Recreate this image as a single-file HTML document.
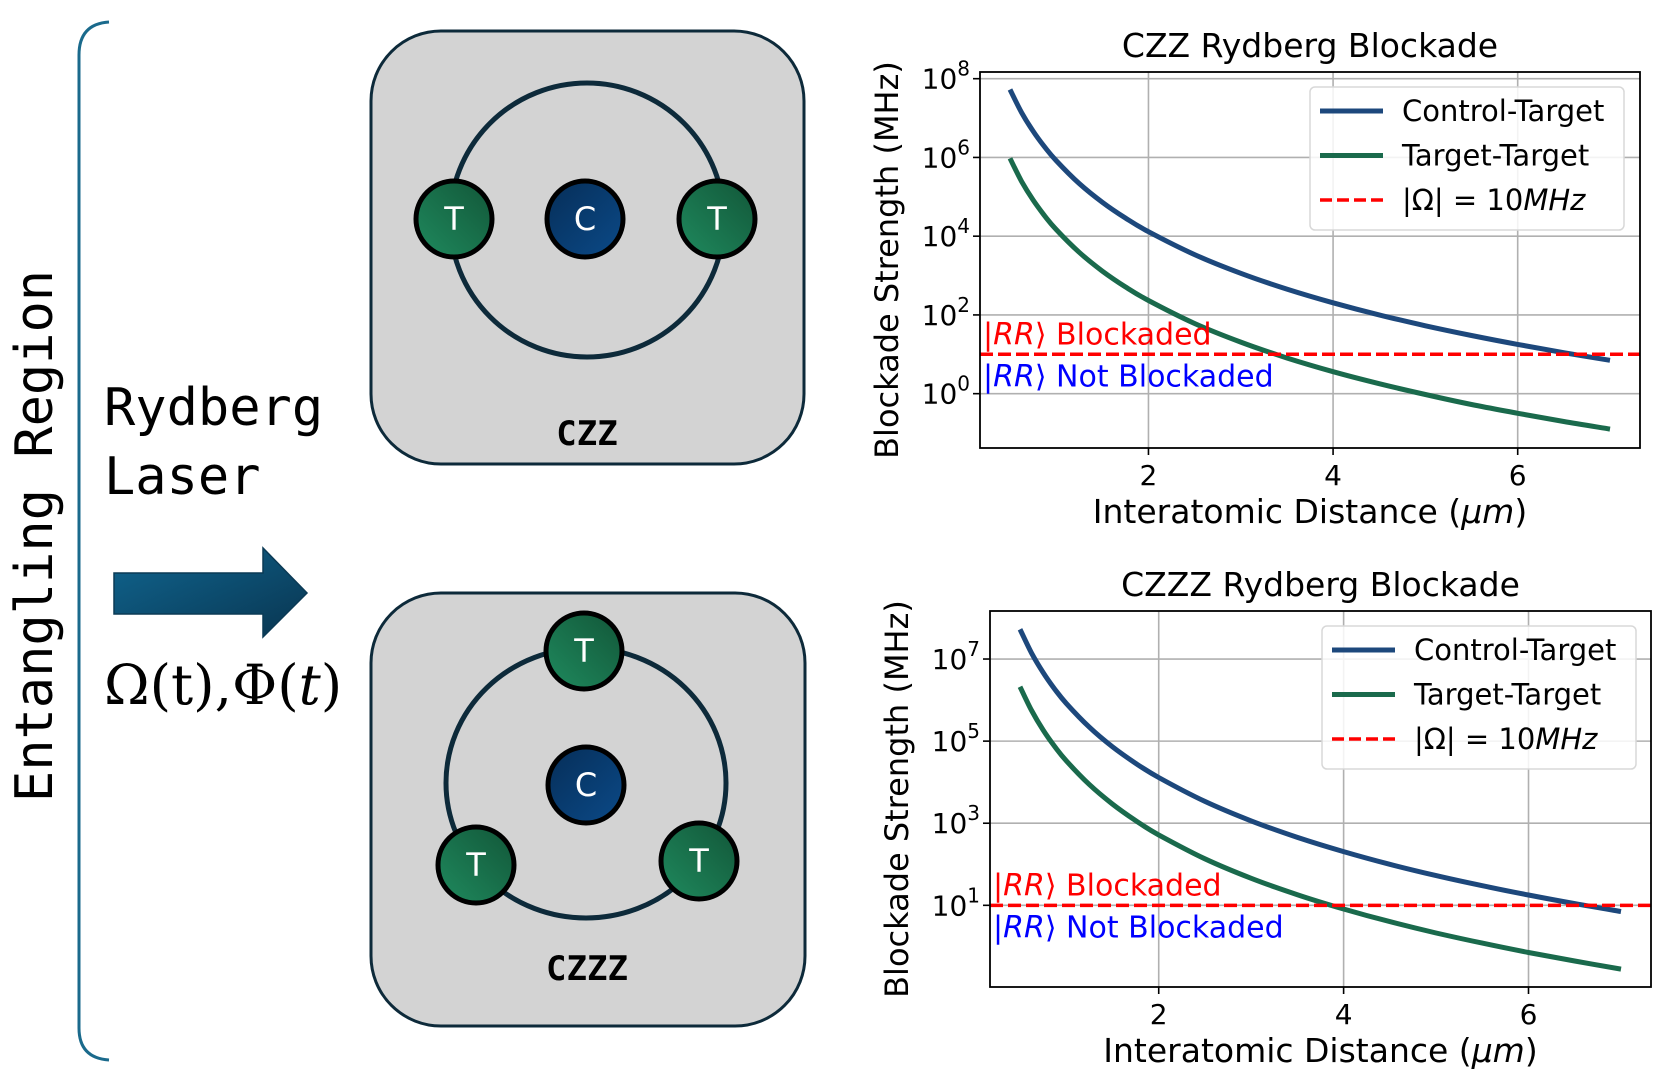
<!DOCTYPE html>
<html><head><meta charset="utf-8"><style>
html,body{margin:0;padding:0;background:#fff;}
svg{display:block;}
text{font-family:"DejaVu Sans","Liberation Sans",sans-serif;}
</style></head><body>
<svg id="fig" width="1660" height="1083" viewBox="0 0 1660 1083" xmlns="http://www.w3.org/2000/svg">
<defs>
<linearGradient id="gT" x1="0" y1="1" x2="1" y2="0"><stop offset="0" stop-color="#1f8a5e"/><stop offset="1" stop-color="#125638"/></linearGradient>
<linearGradient id="gC" x1="0" y1="0" x2="1" y2="1"><stop offset="0" stop-color="#062e58"/><stop offset="1" stop-color="#0b4a88"/></linearGradient>
<linearGradient id="gA" x1="0" y1="0" x2="1" y2="1"><stop offset="0" stop-color="#10658f"/><stop offset="1" stop-color="#093550"/></linearGradient>
</defs>
<path d="M109,22 Q79,24 79,55 L79,1028 Q79,1058 109,1060" fill="none" stroke="#1a6a8c" stroke-width="3"/>
<text x="0" y="0" transform="translate(52,536) rotate(-90)" text-anchor="middle" font-size="52" style="font-family:'DejaVu Sans Mono','Liberation Mono',monospace">Entangling Region</text>
<text x="104" y="425" font-size="52" style="font-family:'DejaVu Sans Mono','Liberation Mono',monospace">Rydberg</text>
<text x="104" y="494" font-size="52" style="font-family:'DejaVu Sans Mono','Liberation Mono',monospace">Laser</text>
<polygon points="114,573 263,573 263,548 307,593 263,637 263,614 114,614" fill="url(#gA)" stroke="#0b3a55" stroke-width="1.5"/>
<text x="104" y="704" font-size="55" style="font-family:'DejaVu Serif','Liberation Serif',serif">Ω(t),Φ(<tspan font-style="italic">t</tspan>)</text>

<g>
<rect x="371" y="31" width="433" height="433" rx="70" fill="#d3d3d3" stroke="#0d2a3a" stroke-width="3"/>
<circle cx="587" cy="220" r="137" fill="none" stroke="#0d2a3a" stroke-width="5"/>
<g><circle cx="454" cy="219" r="38" fill="url(#gT)" stroke="#000" stroke-width="5"/><text x="454" y="230" text-anchor="middle" fill="#fff" font-size="32">T</text></g>
<g><circle cx="585" cy="219" r="38" fill="url(#gC)" stroke="#000" stroke-width="5"/><text x="585" y="230" text-anchor="middle" fill="#fff" font-size="32">C</text></g>
<g><circle cx="717" cy="219" r="38" fill="url(#gT)" stroke="#000" stroke-width="5"/><text x="717" y="230" text-anchor="middle" fill="#fff" font-size="32">T</text></g>
<text x="587" y="445" text-anchor="middle" font-size="34" font-weight="bold" style="font-family:'DejaVu Sans Mono','Liberation Mono',monospace">CZZ</text>
</g>
<g>
<rect x="371" y="593" width="434" height="433" rx="70" fill="#d3d3d3" stroke="#0d2a3a" stroke-width="3"/>
<ellipse cx="586" cy="783" rx="140" ry="135" fill="none" stroke="#0d2a3a" stroke-width="5"/>
<g><circle cx="584" cy="651" r="38" fill="url(#gT)" stroke="#000" stroke-width="5"/><text x="584" y="662" text-anchor="middle" fill="#fff" font-size="32">T</text></g>
<g><circle cx="586" cy="785" r="38" fill="url(#gC)" stroke="#000" stroke-width="5"/><text x="586" y="796" text-anchor="middle" fill="#fff" font-size="32">C</text></g>
<g><circle cx="476" cy="865" r="38" fill="url(#gT)" stroke="#000" stroke-width="5"/><text x="476" y="876" text-anchor="middle" fill="#fff" font-size="32">T</text></g>
<g><circle cx="699" cy="861" r="38" fill="url(#gT)" stroke="#000" stroke-width="5"/><text x="699" y="872" text-anchor="middle" fill="#fff" font-size="32">T</text></g>
<text x="587" y="980" text-anchor="middle" font-size="34" font-weight="bold" style="font-family:'DejaVu Sans Mono','Liberation Mono',monospace">CZZZ</text>
</g>
<g id="charts"></g>
</svg>
<script>
const distances = [0.5,0.625,0.75,0.875,1,1.25,1.5,1.75,2,2.5,3,3.5,4,4.5,5,5.5,6,6.5,7];
const czzControlTarget = [5.31e7,1.39e7,4.66e6,1.85e6,8.3e5,2.18e5,7.29e4,2.89e4,1.30e4,3.40e3,1140,452,203,100,53,30,17.8,11.0,7.05];
const czzTargetTarget = [9.48e5,2.48e5,8.32e4,3.30e4,1.48e4,3.89e3,1300,516,232,60.7,20.4,8.07,3.62,1.79,0.95,0.53,0.318,0.196,0.126];
const czzzControlTarget = [5.31e7,1.39e7,4.66e6,1.85e6,8.3e5,2.18e5,7.29e4,2.89e4,1.30e4,3.40e3,1140,452,203,100,53,30,17.8,11.0,7.05];
const czzzTargetTarget = [2.12e6,5.56e5,1.86e5,7.4e4,3.32e4,8.72e3,2920,1160,520,136,45.6,18.1,8.12,4.0,2.12,1.2,0.71,0.44,0.28];
const xTicks = [2,4,6];
const czzYTicks = [0,2,4,6,8];
const czzzYTicks = [1,3,5,7];
const rabiThreshold = 10;
const legendLabels = ["Control-Target","Target-Target"];

const NS = "http://www.w3.org/2000/svg";
const root = document.getElementById('charts');
function mk(tag, attrs, parent){const e=document.createElementNS(NS,tag);for(const k in attrs)e.setAttribute(k,attrs[k]);(parent||root).appendChild(e);return e;}
function smoothPath(pts){
  let d='M'+pts[0][0].toFixed(1)+','+pts[0][1].toFixed(1);
  for(let i=0;i<pts.length-1;i++){
    const p0=pts[Math.max(0,i-1)],p1=pts[i],p2=pts[i+1],p3=pts[Math.min(pts.length-1,i+2)];
    const c1=[p1[0]+(p2[0]-p0[0])/6,p1[1]+(p2[1]-p0[1])/6];
    const c2=[p2[0]-(p3[0]-p1[0])/6,p2[1]-(p3[1]-p1[1])/6];
    d+=' C'+c1[0].toFixed(1)+','+c1[1].toFixed(1)+' '+c2[0].toFixed(1)+','+c2[1].toFixed(1)+' '+p2[0].toFixed(1)+','+p2[1].toFixed(1);
  }
  return d;
}

function chart(cfg){
  const g = mk('g',{});
  
  
  const L=cfg.l,R=cfg.r,T=cfg.t,B=cfg.b;
  const xMin=0.175,xMax=7.325;
  const sx=v=>L+(v-xMin)/(xMax-xMin)*(R-L);
  const sy=v=>T+(cfg.yMax-Math.log10(v))/(cfg.yMax-cfg.yMin)*(B-T);
  xTicks.forEach(t=>{
    const ln=mk('line',{x1:sx(t),x2:sx(t),y1:T,y2:B,stroke:'#b0b0b0','stroke-width':1.6},g);
    
    
    mk('line',{x1:sx(t),x2:sx(t),y1:B,y2:B+7,stroke:'#000','stroke-width':1.6},g);
    const tx=mk('text',{x:sx(t),y:B+37,'text-anchor':'middle','font-size':28},g);
    tx.textContent=String(t);
    
    
  });
  cfg.yTicks.forEach(p=>{
    const y=sy(Math.pow(10,p));
    const ln=mk('line',{x1:L,x2:R,y1:y,y2:y,stroke:'#b0b0b0','stroke-width':1.6},g);
    
    
    mk('line',{x1:L-7,x2:L,y1:y,y2:y,stroke:'#000','stroke-width':1.6},g);
    const tx=mk('text',{x:L-10,y:y+10,'text-anchor':'end','font-size':28},g);
    tx.innerHTML='10<tspan dy="-13" font-size="20">'+p+'</tspan>';
    
    
  });
  const mkLine=(vals,color,name)=>{
    const pts=distances.map((x,i)=>[sx(x),sy(vals[i])]);
    const p=mk('path',{d:smoothPath(pts),fill:'none',stroke:color,'stroke-width':5,'stroke-linejoin':'round'},g);
    
    
  };
  mkLine(cfg.ct,'#1d487c','control-target-line');
  mkLine(cfg.tt,'#1a6a4c','target-target-line');
  const ty=sy(rabiThreshold);
  const th=mk('line',{x1:L,x2:R,y1:ty,y2:ty,stroke:'#ff0000','stroke-width':3.5,'stroke-dasharray':'13,5'},g);
  
  
  const a1=mk('text',{x:L+3,y:ty-10,fill:'#ff0000','font-size':30},g);
  a1.innerHTML='|<tspan font-style="italic">RR</tspan>⟩ Blockaded';
  
  
  const a2=mk('text',{x:L+3,y:ty+32,fill:'#0000ff','font-size':30},g);
  a2.innerHTML='|<tspan font-style="italic">RR</tspan>⟩ Not Blockaded';
  
  
  const fr=mk('rect',{x:L,y:T,width:R-L,height:B-T,fill:'none',stroke:'#000','stroke-width':1.8},g);
  
  
  const lg=mk('g',{},g);
  
  
  mk('rect',{x:cfg.lx,y:cfg.ly,width:314,height:143,rx:5,fill:'#fff','fill-opacity':0.85,stroke:'#d8d8d8','stroke-width':1.5},lg);
  const cols=['#1d487c','#1a6a4c'];
  [0,1,2].forEach(i=>{
    const yy=cfg.ly+24+i*44.5;
    mk('line',{x1:cfg.lx+10,x2:cfg.lx+73,y1:yy,y2:yy,stroke:i<2?cols[i]:'#ff0000','stroke-width':i<2?5:3.5,'stroke-dasharray':i<2?'none':'12,5'},lg);
    const tx=mk('text',{x:cfg.lx+92,y:yy+10,'font-size':29},lg);
    if(i<2) tx.textContent=legendLabels[i];
    else tx.innerHTML='|Ω| = 10<tspan font-style="italic">MHz</tspan>';
    
    
  });
  const title=mk('text',{x:(L+R)/2,y:T-15,'text-anchor':'middle','font-size':33},g);
  title.textContent=cfg.title;
  
  
  const xl=mk('text',{x:(L+R)/2,y:B+75,'text-anchor':'middle','font-size':33},g);
  xl.innerHTML='Interatomic Distance (<tspan font-style="italic">μm</tspan>)';
  
  
  const yl=mk('text',{x:0,y:0,transform:'translate('+cfg.ylx+','+((T+B)/2)+') rotate(-90)','text-anchor':'middle','font-size':32},g);
  yl.textContent='Blockade Strength (MHz)';
  
  
}
chart({name:'czz-blockade-chart',title:'CZZ Rydberg Blockade',l:980,r:1640,t:72,b:448,yMin:-1.38,yMax:8.17,yTicks:czzYTicks,ct:czzControlTarget,tt:czzTargetTarget,lx:1310,ly:87,ylx:898});
chart({name:'czzz-blockade-chart',title:'CZZZ Rydberg Blockade',l:990,r:1651,t:611,b:987,yMin:-0.99,yMax:8.17,yTicks:czzzYTicks,ct:czzzControlTarget,tt:czzzTargetTarget,lx:1322,ly:626,ylx:908});
</script>
</body></html>
